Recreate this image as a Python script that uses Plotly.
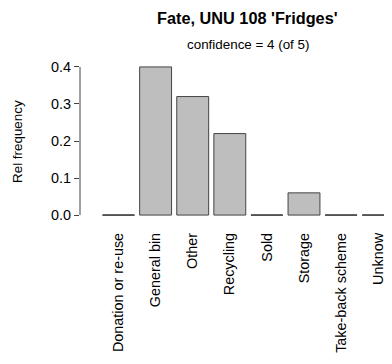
import plotly.graph_objects as go

categories = ["Donation or re-use", "General bin", "Other", "Recycling", "Sold",
              "Storage", "Take-back scheme", "Unknow"]
values = [0.0, 0.40, 0.32, 0.22, 0.0, 0.06, 0.0, 0.0]
ytick_vals = [0.0, 0.1, 0.2, 0.3, 0.4]
ytick_text = ["0.0", "0.1", "0.2", "0.3", "0.4"]
title_text = "Fate, UNU 108 'Fridges'"
subtitle_text = "confidence = 4 (of 5)"
ylabel = "Rel frequency"

FONT = "Liberation Sans, Arial, Helvetica, sans-serif"
BAR_W = 0.86
EDGE = "#444444"
idx = list(range(len(categories)))

fig = go.Figure()
fig.add_trace(go.Bar(
    x=idx, y=values, width=BAR_W,
    marker=dict(color="#bebebe", line=dict(color=EDGE, width=1)),
    hoverinfo="skip", showlegend=False,
))

# zero-height bars are drawn by R as a flat outline; emulate with segments
zx, zy = [], []
for i, v in zip(idx, values):
    if v == 0:
        zx += [i - BAR_W / 2, i + BAR_W / 2, None]
        zy += [v, v, None]
fig.add_trace(go.Scatter(x=zx, y=zy, mode="lines",
                         line=dict(color=EDGE, width=1),
                         hoverinfo="skip", showlegend=False, cliponaxis=True))

fig.update_layout(
    width=384, height=356,
    margin=dict(l=72, r=0, t=53, b=143),
    paper_bgcolor="white", plot_bgcolor="white",
    font=dict(family=FONT, size=14, color="black"),
    xaxis=dict(range=[-1.038, 7.372], tickmode="array", tickvals=idx,
               ticktext=categories, tickangle=-90, ticks="",
               showgrid=False, zeroline=False, showline=False,
               ticklabelstandoff=8, tickfont=dict(size=14.4)),
    yaxis=dict(range=[-0.016, 0.416], tickmode="array", tickvals=ytick_vals,
               ticktext=ytick_text, ticks="outside", ticklen=5,
               tickcolor=EDGE, tickwidth=1, showgrid=False, zeroline=False,
               showline=False, tickfont=dict(size=14.4)),
    shapes=[dict(type="line", xref="paper", yref="y", x0=0, x1=0,
                 y0=ytick_vals[0], y1=ytick_vals[-1],
                 line=dict(color=EDGE, width=1))],
    annotations=[
        dict(text="<b>" + title_text + "</b>", xref="paper", yref="paper",
             x=0.538, y=1.269, xanchor="center", yanchor="middle",
             showarrow=False, font=dict(size=16.3)),
        dict(text=subtitle_text, xref="paper", yref="paper",
             x=0.538, y=1.106, xanchor="center", yanchor="middle",
             showarrow=False, font=dict(size=13.4)),
        dict(text=ylabel, xref="paper", yref="paper", x=-0.202, y=0.5,
             xanchor="center", yanchor="middle", textangle=-90,
             showarrow=False, font=dict(size=13.4)),
    ],
)

fig.write_html("out.html")
